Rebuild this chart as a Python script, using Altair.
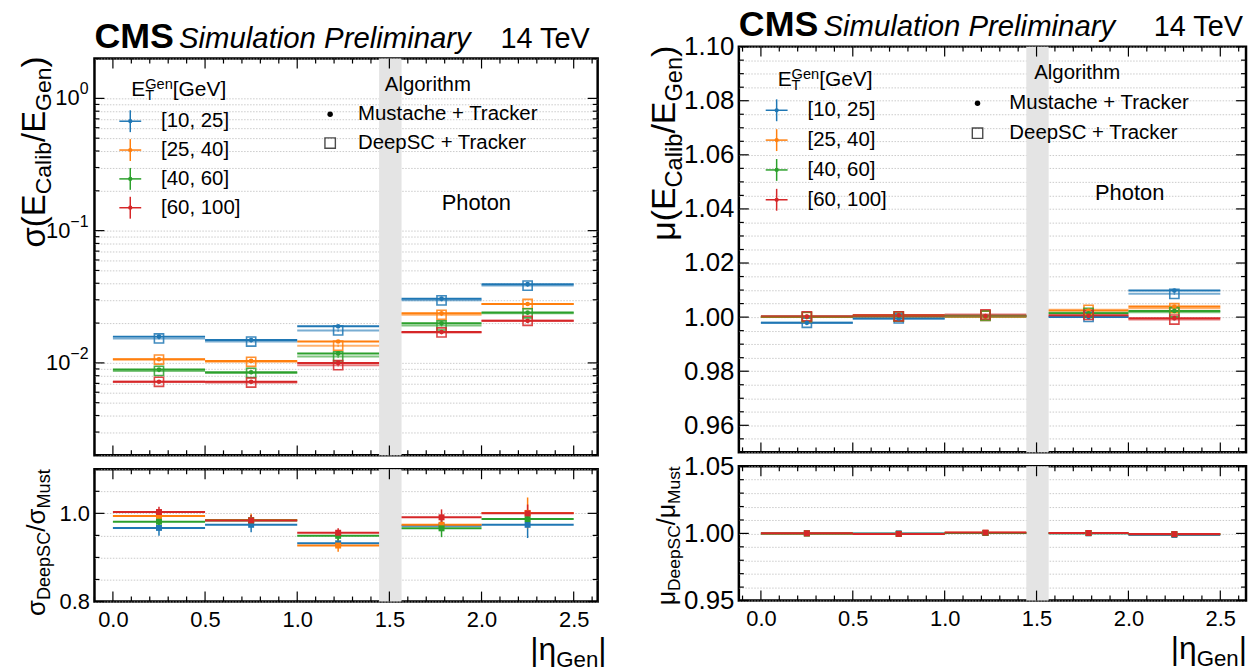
import altair as alt
import pandas as pd

FONT = "Liberation Sans"

# ---------------- data ----------------
eta_lo = [0.0, 0.5, 1.0, 1.566, 2.0]
eta_hi = [0.5, 1.0, 1.4442, 2.0, 2.5]
eta_center = [0.25, 0.75, 1.2221, 1.783, 2.25]
gap_edges = [1.4442, 1.566]

et_labels = ["[10, 25]", "[25, 40]", "[40, 60]", "[60, 100]"]
et_colors = ["#1f77b4", "#ff7f0e", "#2ca02c", "#d62728"]

# resolution sigma(E_calib/E_gen), Mustache + Tracker
sigma_must_10_25 = [0.0158, 0.0149, 0.0189, 0.0306, 0.0394]
sigma_must_25_40 = [0.01065, 0.01035, 0.01452, 0.0237, 0.0279]
sigma_must_40_60 = [0.0089, 0.0085, 0.0118, 0.0199, 0.0240]
sigma_must_60_100 = [0.0072, 0.0072, 0.0100, 0.0171, 0.0208]
# DeepSC + Tracker
sigma_deep_10_25 = [0.0153, 0.0145, 0.0176, 0.0297, 0.0384]
sigma_deep_25_40 = [0.0106, 0.0102, 0.0135, 0.0231, 0.0279]
sigma_deep_40_60 = [0.0087, 0.0084, 0.0112, 0.0192, 0.0237]
sigma_deep_60_100 = [0.0072, 0.0071, 0.0096, 0.0170, 0.0208]
sigma_err_10_25 = [0.0003, 0.0003, 0.0004, 0.0006, 0.0009]
sigma_err_25_40 = [0.0002, 0.0002, 0.0003, 0.0005, 0.0006]
sigma_err_40_60 = [0.0002, 0.0002, 0.0003, 0.0004, 0.0005]
sigma_err_60_100 = [0.00015, 0.00015, 0.0002, 0.0004, 0.0005]
# ratio DeepSC / Mustache
sigma_ratio_10_25 = [0.967, 0.974, 0.932, 0.972, 0.974]
sigma_ratio_25_40 = [0.994, 0.985, 0.927, 0.974, 1.001]
sigma_ratio_40_60 = [0.981, 0.984, 0.949, 0.966, 0.987]
sigma_ratio_60_100 = [1.003, 0.984, 0.956, 0.991, 1.000]
sigma_ratio_err_10_25 = [0.018, 0.017, 0.010, 0.012, 0.030]
sigma_ratio_err_25_40 = [0.012, 0.014, 0.014, 0.012, 0.035]
sigma_ratio_err_40_60 = [0.010, 0.012, 0.010, 0.020, 0.018]
sigma_ratio_err_60_100 = [0.012, 0.012, 0.010, 0.018, 0.020]

# scale mu(E_calib/E_gen)
mu_must_10_25 = [0.9979, 0.9995, 1.0002, 1.0000, 1.0098]
mu_must_25_40 = [1.0000, 1.0007, 1.0001, 1.0024, 1.0039]
mu_must_40_60 = [1.0001, 1.0005, 1.0003, 1.0014, 1.0023]
mu_must_60_100 = [1.0002, 1.0007, 1.0004, 1.0005, 0.9996]
mu_deep_10_25 = [0.9979, 0.9995, 1.0005, 1.0001, 1.0086]
mu_deep_25_40 = [1.0000, 1.0003, 1.0005, 1.0027, 1.0033]
mu_deep_40_60 = [1.0001, 1.0002, 1.0006, 1.0016, 1.0018]
mu_deep_60_100 = [1.0003, 1.0003, 1.0010, 1.0008, 0.9991]
mu_err_10_25 = [0.0002, 0.0002, 0.0002, 0.0003, 0.0004]
mu_err_25_40 = [0.0002, 0.0002, 0.0002, 0.0003, 0.0003]
mu_err_40_60 = [0.0002, 0.0002, 0.0002, 0.0002, 0.0003]
mu_err_60_100 = [0.0002, 0.0002, 0.0002, 0.0002, 0.0003]
mu_ratio_10_25 = [1.0000, 1.0000, 1.0003, 1.0001, 0.9988]
mu_ratio_25_40 = [1.0000, 0.9996, 1.0004, 1.0003, 0.9994]
mu_ratio_40_60 = [1.0000, 0.9997, 1.0003, 1.0002, 0.9995]
mu_ratio_60_100 = [1.0001, 0.9996, 1.0006, 1.0003, 0.9995]
mu_ratio_err_10_25 = [0.0004, 0.0004, 0.0004, 0.0004, 0.0008]
mu_ratio_err_25_40 = [0.0004, 0.0004, 0.0004, 0.0004, 0.0006]
mu_ratio_err_40_60 = [0.0004, 0.0004, 0.0004, 0.0004, 0.0006]
mu_ratio_err_60_100 = [0.0004, 0.0004, 0.0006, 0.0004, 0.0006]

# axis tick values and labels
x_major = [0.0, 0.5, 1.0, 1.5, 2.0, 2.5]
x_minor = [-0.1, 0.1, 0.2, 0.3, 0.4, 0.6, 0.7, 0.8, 0.9, 1.1, 1.2, 1.3, 1.4,
           1.6, 1.7, 1.8, 1.9, 2.1, 2.2, 2.3, 2.4, 2.6]
sig_major = [0.01, 0.1, 1.0]
sig_major_exp = ["−2", "−1", "0"]
sig_minor = [0.002, 0.003, 0.004, 0.005, 0.006, 0.007, 0.008, 0.009,
             0.02, 0.03, 0.04, 0.05, 0.06, 0.07, 0.08, 0.09,
             0.2, 0.3, 0.4, 0.5, 0.6, 0.7, 0.8, 0.9, 2.0]
sigr_major = [0.8, 1.0]
sigr_minor = [0.85, 0.9, 0.95, 1.05, 1.1]
mu_major = [0.96, 0.98, 1.00, 1.02, 1.04, 1.06, 1.08, 1.10]
mu_minor = [0.95, 0.955, 0.965, 0.97, 0.975, 0.985, 0.99, 0.995, 1.005, 1.01, 1.015,
            1.025, 1.03, 1.035, 1.045, 1.05, 1.055, 1.065, 1.07, 1.075, 1.085,
            1.09, 1.095]
mur_major = [0.95, 1.00, 1.05]
mur_minor = [0.96, 0.97, 0.98, 0.99, 1.01, 1.02, 1.03, 1.04]

GRID = "#bdbdbd"
BAND = "#e4e4e4"

W_TABLE = {'σ': 0.62, 'μ': 0.577, 'η': 0.556, '(': 0.333, ')': 0.333, '/': 0.278,
           '|': 0.26, 'E': 0.667, 'C': 0.722, 'a': 0.556, 'l': 0.222, 'i': 0.222,
           'b': 0.556, 'G': 0.778, 'e': 0.556, 'n': 0.556, 'D': 0.722, 'p': 0.556,
           'S': 0.667, 'M': 0.833, 'u': 0.556, 's': 0.5, 't': 0.278, 'T': 0.611,
           '[': 0.278, ']': 0.278, 'V': 0.667, '−': 0.584, '0': 0.556, '1': 0.556,
           '2': 0.556}


def tw(s, size):
    return sum(W_TABLE.get(ch, 0.556) for ch in s) * size


def long_df(vals, errs):
    rows = []
    for lab, v, e in zip(et_labels, vals, errs):
        for j in range(len(eta_center)):
            rows.append(dict(cat=lab, c=eta_center[j], lo=eta_lo[j], hi=eta_hi[j],
                             v=v[j], elo=v[j] - e[j], ehi=v[j] + e[j]))
    return pd.DataFrame(rows)


sig_must_df = long_df([sigma_must_10_25, sigma_must_25_40, sigma_must_40_60, sigma_must_60_100],
                      [sigma_err_10_25, sigma_err_25_40, sigma_err_40_60, sigma_err_60_100])
sig_deep_df = long_df([sigma_deep_10_25, sigma_deep_25_40, sigma_deep_40_60, sigma_deep_60_100],
                      [sigma_err_10_25, sigma_err_25_40, sigma_err_40_60, sigma_err_60_100])
sig_ratio_df = long_df([sigma_ratio_10_25, sigma_ratio_25_40, sigma_ratio_40_60, sigma_ratio_60_100],
                       [sigma_ratio_err_10_25, sigma_ratio_err_25_40, sigma_ratio_err_40_60, sigma_ratio_err_60_100])
mu_must_df = long_df([mu_must_10_25, mu_must_25_40, mu_must_40_60, mu_must_60_100],
                     [mu_err_10_25, mu_err_25_40, mu_err_40_60, mu_err_60_100])
mu_deep_df = long_df([mu_deep_10_25, mu_deep_25_40, mu_deep_40_60, mu_deep_60_100],
                     [mu_err_10_25, mu_err_25_40, mu_err_40_60, mu_err_60_100])
mu_ratio_df = long_df([mu_ratio_10_25, mu_ratio_25_40, mu_ratio_40_60, mu_ratio_60_100],
                      [mu_ratio_err_10_25, mu_ratio_err_25_40, mu_ratio_err_40_60, mu_ratio_err_60_100])

COLOR = alt.Color('cat:N', scale=alt.Scale(domain=et_labels, range=et_colors), legend=None)
ONE = pd.DataFrame({'t': ['x']})


def txt(s, x, y, size, align='left', baseline='alphabetic', angle=0,
        style='normal', weight='normal', color='black'):
    return alt.Chart(pd.DataFrame({'t': [s]})).mark_text(
        align=align, baseline=baseline, angle=angle, font=FONT, fontSize=size,
        fontStyle=style, fontWeight=weight, color=color
    ).encode(text='t:N', x=alt.value(x), y=alt.value(y))


def ytitle(pieces, base_x, y_top, F, sub=0.7):
    total = sum(tw(s, F * sub if sb else F) for s, sb in pieces)
    y = y_top + total
    out = []
    for s, sb in pieces:
        fs = F * sub if sb else F
        bx = base_x + (0.2 * F if sb else 0)
        out.append(txt(s, bx, y, fs, angle=270))
        y -= tw(s, fs)
    return out


def xtitle(pieces, x_right, y_base, F, sub=0.7):
    total = sum(tw(s, F * sub if sb else F) for s, sb in pieces)
    x = x_right - total
    out = []
    for s, sb in pieces:
        fs = F * sub if sb else F
        out.append(txt(s, x, y_base + (0.2 * F if sb else 0), fs))
        x += tw(s, fs)
    return out


def ghost(x):
    # invisible rule that fixes the panel's layout bounds
    return alt.Chart(ONE).mark_rule(opacity=0, strokeWidth=1).encode(
        x=alt.value(x), y=alt.value(0), y2=alt.value(5))


class Panel:
    def __init__(self, xdom, ys, xaxis, yaxis, W, H):
        self.xdom = xdom
        self.xs = alt.Scale(domain=xdom, nice=False, zero=False)
        self.ys, self.xaxis, self.yaxis, self.W, self.H = ys, xaxis, yaxis, W, H

    def X(self, f):
        return alt.X(f, scale=self.xs, axis=self.xaxis)

    def Y(self, f):
        return alt.Y(f, scale=self.ys, axis=self.yaxis)

    def axis_layer(self, ydom):
        df = pd.DataFrame({'x': self.xdom, 'y': ydom})
        return alt.Chart(df).mark_point(opacity=0).encode(x=self.X('x:Q'), y=self.Y('y:Q'))

    def band(self):
        df = pd.DataFrame({'x': [gap_edges[0]], 'x2': [gap_edges[1]]})
        return alt.Chart(df).mark_rect(color=BAND).encode(
            x=self.X('x:Q'), x2='x2:Q', y=alt.value(0), y2=alt.value(self.H))

    def hlines(self, df, op):
        return alt.Chart(df).mark_rule(strokeWidth=2, opacity=op).encode(
            x=self.X('lo:Q'), x2='hi:Q', y=self.Y('v:Q'), color=COLOR)

    def vlines(self, df, op):
        return alt.Chart(df).mark_rule(strokeWidth=1.5, opacity=op).encode(
            x=self.X('c:Q'), y=self.Y('elo:Q'), y2='ehi:Q', color=COLOR)

    def dots(self, df):
        return alt.Chart(df).mark_circle(size=22, opacity=1).encode(
            x=self.X('c:Q'), y=self.Y('v:Q'), color=COLOR)

    def squares(self, df):
        return alt.Chart(df).mark_point(shape='square', filled=False, size=85, strokeWidth=1.6,
                                        opacity=0.85).encode(
            x=self.X('c:Q'), y=self.Y('v:Q'), color=COLOR)

    def ratio_marks(self, df):
        return alt.Chart(df).mark_square(size=36, opacity=1).encode(
            x=self.X('c:Q'), y=self.Y('v:Q'), color=COLOR)

    def ticks(self, ymaj, ymin):
        out = []
        W, H = self.W, self.H
        for vals, L in [(x_major, 10), (x_minor, 5)]:
            df = pd.DataFrame({'x': vals})
            for y0, y1 in [(H, H - L), (0, L)]:
                out.append(alt.Chart(df).mark_rule(color='black', strokeWidth=1.2).encode(
                    x=self.X('x:Q'), y=alt.value(y0), y2=alt.value(y1)))
        for vals, L in [(ymaj, 10), (ymin, 5)]:
            df = pd.DataFrame({'y': vals})
            for x0, x1 in [(0, L), (W, W - L)]:
                out.append(alt.Chart(df).mark_rule(color='black', strokeWidth=1.2).encode(
                    y=self.Y('y:Q'), x=alt.value(x0), x2=alt.value(x1)))
        return out

    def log_labels(self, vals, exps):
        out = []
        for v, e in zip(vals, exps):
            df = pd.DataFrame({'y': [v], 'b': ['10'], 'e': [e]})
            sw = tw(e, 16)
            out.append(alt.Chart(df).mark_text(align='right', baseline='middle', font=FONT,
                                               fontSize=22, color='black').encode(
                y=self.Y('y:Q'), x=alt.value(-6 - sw), text='b:N'))
            out.append(alt.Chart(df).mark_text(align='left', baseline='middle', font=FONT,
                                               fontSize=16, dy=-9, color='black').encode(
                y=self.Y('y:Q'), x=alt.value(-6 - sw), text='e:N'))
        return out


def header(W, base, right_pad):
    return [txt("CMS", 0, base, 36, weight='bold'),
            txt("Simulation Preliminary", 85, base, 29.5, style='italic'),
            txt("14 TeV", W - right_pad, base, 29, align='right')]


def legend(gx, tx, ys_entries, title_xy, alg_x, alg_y, mk_x, mk_y, mk_tx, photon_xy):
    out = []
    ex, ey = title_xy
    out.append(txt("E", ex, ey, 21))
    out.append(txt("Gen", ex + 14, ey - 7, 14.7))
    out.append(txt("T", ex + 14, ey + 4, 14.7))
    out.append(txt("[GeV]", ex + 14 + tw("Gen", 14.7), ey, 21))
    for lab, col, yy in zip(et_labels, et_colors, ys_entries):
        one = pd.DataFrame({'t': [lab]})
        out.append(alt.Chart(one).mark_rule(color=col, strokeWidth=1.5).encode(
            x=alt.value(gx - 11), x2=alt.value(gx + 11), y=alt.value(yy)))
        out.append(alt.Chart(one).mark_rule(color=col, strokeWidth=1.5).encode(
            x=alt.value(gx), y=alt.value(yy - 11), y2=alt.value(yy + 11)))
        out.append(alt.Chart(one).mark_circle(color=col, size=18, opacity=1).encode(
            x=alt.value(gx), y=alt.value(yy)))
        out.append(txt(lab, tx, yy, 20.5, baseline='middle'))
    out.append(txt("Algorithm", alg_x, alg_y, 20.5, baseline='middle'))
    out.append(alt.Chart(ONE).mark_circle(color='black', size=30, opacity=1).encode(
        x=alt.value(mk_x), y=alt.value(mk_y[0])))
    out.append(alt.Chart(ONE).mark_point(shape='square', filled=False, color='black', size=110,
                                         strokeWidth=1.4).encode(
        x=alt.value(mk_x), y=alt.value(mk_y[1])))
    out.append(txt("Mustache + Tracker", mk_tx, mk_y[0], 20.5, baseline='middle'))
    out.append(txt("DeepSC + Tracker", mk_tx, mk_y[1], 20.5, baseline='middle'))
    out.append(txt("Photon", photon_xy[0], photon_xy[1], 22, align='center', baseline='middle'))
    return out


def yaxis(vals, expr, fs, labels=True):
    return alt.Axis(values=vals, labelExpr=expr, title=None, grid=True, gridDash=[1.5, 1.5],
                    gridColor=GRID, gridWidth=0.8, labelFontSize=fs, labelPadding=5,
                    labels=labels)


XAX_TOP = alt.Axis(labels=False, title=None, grid=False)
XAX_BOT = alt.Axis(values=x_major, format='.1f', title=None, grid=False,
                   labelFontSize=22, labelPadding=8)

# ---------------- left column ----------------
WL, HLt, HLb = 506, 399, 133
XL = [-0.1, 2.63]
ys_sig = alt.Scale(type='log', domain=[0.002, 2.0], nice=False)
ys_sigr = alt.Scale(domain=[0.8, 1.1], nice=False, zero=False)
sigr_expr = "abs(datum.value*5 - round(datum.value*5)) < 1e-6 ? format(datum.value, '.1f') : ''"

P = Panel(XL, ys_sig, XAX_TOP, yaxis(sig_major + sig_minor, "''", 22, labels=False), WL, HLt)
topL = alt.layer(
    P.axis_layer([0.002, 2.0]), P.band(),
    P.hlines(sig_must_df, 1.0), P.hlines(sig_deep_df, 0.6),
    P.vlines(sig_must_df, 1.0), P.vlines(sig_deep_df, 0.6),
    P.squares(sig_deep_df), P.dots(sig_must_df),
    *P.ticks(sig_major, sig_minor),
    *P.log_labels(sig_major, sig_major_exp),
    *header(WL, -11, 8),
    *ytitle([('σ(E', False), ('Calib', True), ('/E', False), ('Gen', True), (')', False)],
            -50, -2, 33),
    *legend(36, 67, [63, 92, 121, 150], (37, 38), 292, 27, 237, (56, 85), 265, (384, 145)),
    ghost(-90), ghost(WL + 20),
).properties(width=WL, height=HLt)

P = Panel(XL, ys_sigr, XAX_BOT, yaxis(sigr_major + sigr_minor, sigr_expr, 22), WL, HLb)
botL = alt.layer(
    P.axis_layer([0.8, 1.1]), P.band(),
    P.hlines(sig_ratio_df, 1.0), P.vlines(sig_ratio_df, 1.0), P.ratio_marks(sig_ratio_df),
    *P.ticks(sigr_major, sigr_minor),
    *ytitle([('σ', False), ('DeepSC', True), ('/σ', False), ('Must', True)], -50, 0, 26),
    *xtitle([('|η', False), ('Gen', True), ('|', False)], WL + 9, HLb + 59, 32),
    ghost(-90), ghost(WL + 20),
).properties(width=WL, height=HLb)

# ---------------- right column ----------------
WR, HRt, HRb = 510, 408, 135
XR = [-0.12, 2.64]
ys_mu = alt.Scale(domain=[0.95, 1.10], nice=False, zero=False)
ys_mur = alt.Scale(domain=[0.95, 1.05], nice=False, zero=False)
mu_expr = "abs(datum.value*50 - round(datum.value*50)) < 1e-6 ? format(datum.value, '.2f') : ''"
mur_expr = "abs(datum.value*20 - round(datum.value*20)) < 1e-6 ? format(datum.value, '.2f') : ''"

P = Panel(XR, ys_mu, XAX_TOP, yaxis(mu_major + mu_minor, mu_expr, 26), WR, HRt)
topR = alt.layer(
    P.axis_layer([0.95, 1.10]), P.band(),
    P.hlines(mu_must_df, 1.0), P.hlines(mu_deep_df, 0.6),
    P.vlines(mu_must_df, 1.0), P.vlines(mu_deep_df, 0.6),
    P.squares(mu_deep_df), P.dots(mu_must_df),
    *P.ticks(mu_major, mu_minor),
    *header(WR, -11, 3),
    *ytitle([('μ(E', False), ('Calib', True), ('/E', False), ('Gen', True), (')', False)],
            -64, -1, 34),
    *legend(38, 69, [64, 94, 124, 154], (39, 40), 297, 27, 240, (57, 87), 272, (393, 147)),
    ghost(-100),
).properties(width=WR, height=HRt)

P = Panel(XR, ys_mur, XAX_BOT, yaxis(mur_major + mur_minor, mur_expr, 26), WR, HRb)
botR = alt.layer(
    P.axis_layer([0.95, 1.05]), P.band(),
    P.hlines(mu_ratio_df, 1.0), P.vlines(mu_ratio_df, 1.0), P.ratio_marks(mu_ratio_df),
    *P.ticks(mur_major, mur_minor),
    *ytitle([('μ', False), ('DeepSC', True), ('/μ', False), ('Must', True)], -64, 0, 25),
    *xtitle([('|η', False), ('Gen', True), ('|', False)], WR + 1, HRb + 59, 32),
    ghost(-100),
).properties(width=WR, height=HRb)


def spacer(W, h):
    return alt.Chart(pd.DataFrame({'t': ['']})).mark_text().encode(text='t:N').properties(
        width=W, height=h, view=alt.ViewBackground(strokeOpacity=0, strokeWidth=0))


left = alt.vconcat(spacer(WL, 43), topL, botL, spacing=14, bounds='flush')
right = alt.vconcat(spacer(WR, 31), topR, botR, spacing=14, bounds='flush')

chart = alt.hconcat(left, right, spacing=18).properties(
    padding={'left': 3, 'top': 0, 'right': 0, 'bottom': 0}
).configure_view(
    stroke='black', strokeWidth=2.5
).configure_axis(
    labelFont=FONT, labelColor='black', ticks=False, tickSize=0, domain=False
)

chart.save("out.html", embed_options={"renderer": "svg", "actions": False})
